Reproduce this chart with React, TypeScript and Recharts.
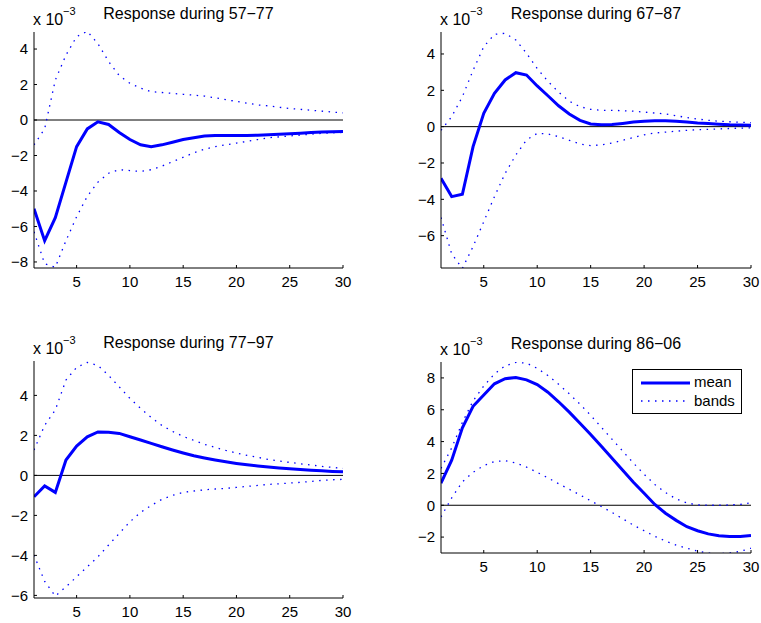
import { LineChart, Line, XAxis, YAxis, ReferenceLine, Legend } from 'recharts'

const steps = [1, 2, 3, 4, 5, 6, 7, 8, 9, 10, 11, 12, 13, 14, 15, 16, 17, 18, 19, 20, 21, 22, 23, 24, 25, 26, 27, 28, 29, 30]
const xTicks = [5, 10, 15, 20, 25, 30]

// values in units of 10^-3
const mean5777 = [-5.0, -6.8, -5.5, -3.5, -1.5, -0.5, -0.1, -0.25, -0.7, -1.1, -1.4, -1.5, -1.4, -1.25, -1.1, -1.0, -0.9, -0.87, -0.87, -0.87, -0.87, -0.86, -0.83, -0.8, -0.77, -0.74, -0.71, -0.68, -0.66, -0.65]
const upper5777 = [-1.4, -0.5, 2.25, 3.66, 4.7, 5.0, 4.3, 3.3, 2.5, 2.07, 1.8, 1.6, 1.55, 1.5, 1.45, 1.4, 1.35, 1.25, 1.15, 1.05, 0.95, 0.85, 0.8, 0.72, 0.65, 0.6, 0.55, 0.5, 0.45, 0.4]
const lower5777 = [-6.3, -8.1, -8.3, -6.8, -5.45, -4.3, -3.5, -3.0, -2.8, -2.85, -2.9, -2.8, -2.6, -2.35, -2.1, -1.85, -1.65, -1.5, -1.4, -1.3, -1.2, -1.1, -1.0, -0.95, -0.9, -0.85, -0.8, -0.75, -0.72, -0.7]

const mean6787 = [-2.84, -3.85, -3.72, -1.1, 0.73, 1.83, 2.57, 2.97, 2.84, 2.24, 1.7, 1.15, 0.7, 0.35, 0.15, 0.1, 0.12, 0.18, 0.25, 0.3, 0.33, 0.33, 0.3, 0.25, 0.2, 0.17, 0.13, 0.1, 0.09, 0.08]
const upper6787 = [-0.2, 0.55, 1.65, 3.1, 4.4, 5.08, 5.14, 4.77, 4.04, 3.2, 2.5, 1.9, 1.4, 1.1, 0.95, 0.9, 0.9, 0.88, 0.85, 0.8, 0.75, 0.7, 0.6, 0.5, 0.42, 0.35, 0.3, 0.27, 0.24, 0.22]
const lower6787 = [-5.0, -7.0, -7.8, -6.6, -5.23, -3.85, -2.57, -1.56, -0.73, -0.37, -0.4, -0.55, -0.75, -0.95, -1.05, -1.0, -0.9, -0.75, -0.6, -0.45, -0.35, -0.3, -0.25, -0.2, -0.17, -0.15, -0.12, -0.1, -0.08, -0.07]

const mean7797 = [-1.07, -0.53, -0.85, 0.77, 1.47, 1.93, 2.17, 2.16, 2.1, 1.93, 1.77, 1.6, 1.43, 1.27, 1.12, 0.98, 0.87, 0.77, 0.68, 0.6, 0.53, 0.47, 0.42, 0.37, 0.33, 0.29, 0.26, 0.23, 0.2, 0.18]
const upper7797 = [1.27, 2.5, 3.27, 4.77, 5.4, 5.65, 5.5, 5.0, 4.43, 3.85, 3.35, 2.9, 2.5, 2.2, 1.95, 1.75, 1.55, 1.4, 1.25, 1.12, 1.0, 0.9, 0.8, 0.72, 0.65, 0.58, 0.52, 0.45, 0.4, 0.35]
const lower7797 = [-3.98, -5.3, -6.03, -5.57, -5.07, -4.57, -4.07, -3.48, -2.9, -2.32, -1.85, -1.5, -1.2, -1.0, -0.85, -0.78, -0.72, -0.68, -0.65, -0.6, -0.55, -0.5, -0.45, -0.42, -0.38, -0.35, -0.3, -0.25, -0.22, -0.2]

const mean8606 = [1.39, 2.83, 4.86, 6.22, 6.93, 7.63, 7.95, 8.03, 7.88, 7.58, 7.1, 6.5, 5.85, 5.15, 4.45, 3.7, 2.95, 2.2, 1.45, 0.75, 0.05, -0.5, -0.95, -1.35, -1.6, -1.8, -1.92, -1.97, -1.97, -1.9]
const upper8606 = [2.32, 3.6, 5.2, 6.56, 7.49, 8.25, 8.76, 8.98, 8.93, 8.6, 8.15, 7.6, 7.0, 6.35, 5.65, 4.9, 4.15, 3.4, 2.65, 1.95, 1.3, 0.8, 0.4, 0.15, 0.02, 0.0, 0.0, 0.02, 0.05, 0.15]
const lower8606 = [-0.73, 0.46, 1.47, 2.07, 2.49, 2.75, 2.8, 2.66, 2.4, 2.07, 1.72, 1.35, 1.0, 0.65, 0.28, -0.08, -0.45, -0.85, -1.25, -1.6, -1.95, -2.25, -2.5, -2.7, -2.88, -3.0, -3.05, -3.0, -2.9, -2.7]

const FONT = '"Liberation Sans", Arial, Helvetica, sans-serif'
const BLUE = '#0000ff'
const DOTS = '1.5 5.5'

const fmt = (v: number) => (v < 0 ? '\u2212' + Math.abs(v) : String(v))

function LegendBox() {
  return (
    <div style={{ width: 110, height: 45, border: '1px solid #000', background: '#fff', fontFamily: FONT, fontSize: 15, lineHeight: '17px', color: '#000', position: 'relative', boxSizing: 'border-box' }}>
      <svg width={60} height={45} style={{ position: 'absolute', left: 0, top: 0 }}>
        <line x1={8} x2={57} y1={13} y2={13} stroke={BLUE} strokeWidth={3} />
        <line x1={8} x2={57} y1={31} y2={31} stroke={BLUE} strokeWidth={1.3} strokeDasharray={DOTS} />
      </svg>
      <div style={{ position: 'absolute', left: 61, top: 3 }}>mean</div>
      <div style={{ position: 'absolute', left: 61, top: 22 }}>bands</div>
    </div>
  )
}

interface PanelProps {
  title: string
  x0: number
  y0: number
  w: number
  h: number
  domain: [number, number]
  yTicks: number[]
  mean: number[]
  upper: number[]
  lower: number[]
  legend?: boolean
}

function Panel({ title, x0, y0, w, h, domain, yTicks, mean, upper, lower, legend }: PanelProps) {
  const padL = 34
  const padT = 32
  const cw = w + padL + 12
  const ch = h + padT + 34
  const data = steps.map((s, i) => ({ step: s, mean: mean[i], upper: upper[i], lower: lower[i] }))
  return (
    <div style={{ position: 'absolute', left: x0 - padL, top: y0 - padT, width: cw, height: ch }}>
      <LineChart width={cw} height={ch} data={data} margin={{ top: padT, left: 4, right: 12, bottom: 12 }}>
        <XAxis
          dataKey="step"
          type="number"
          domain={[1, 30]}
          ticks={xTicks}
          allowDataOverflow
          stroke="#000"
          tickSize={-3}
          tickMargin={11}
          height={22}
          tick={{ fill: '#000', fontSize: 15, fontFamily: FONT }}
        />
        <YAxis
          type="number"
          domain={domain}
          ticks={yTicks}
          allowDataOverflow
          stroke="#000"
          tickSize={-3}
          tickMargin={9}
          width={30}
          tickFormatter={fmt}
          tick={{ fill: '#000', fontSize: 15, fontFamily: FONT }}
        />
        <ReferenceLine y={0} stroke="#000" strokeWidth={1} />
        <Line dataKey="upper" stroke={BLUE} strokeWidth={1.3} strokeDasharray={DOTS} dot={false} isAnimationActive={false} legendType="none" />
        <Line dataKey="lower" stroke={BLUE} strokeWidth={1.3} strokeDasharray={DOTS} dot={false} isAnimationActive={false} legendType="none" />
        <Line dataKey="mean" stroke={BLUE} strokeWidth={3} dot={false} isAnimationActive={false} />
        {legend && (
          <Legend
            content={() => <LegendBox />}
            wrapperStyle={{ position: 'absolute', left: padL + 191, top: padT + 7, width: 110 }}
          />
        )}
      </LineChart>
      <svg width={cw} height={padT} style={{ position: 'absolute', left: 0, top: 0, fontFamily: FONT }}>
        <text x={padL + w / 2} y={padT - 13} textAnchor="middle" fontSize={16} fill="#000">{title}</text>
        <text x={padL - 1} y={padT - 7} fontSize={16} fill="#000">x 10</text>
        <text x={padL + 29} y={padT - 17} fontSize={11} fill="#000">{'\u22123'}</text>
      </svg>
    </div>
  )
}

export default function App() {
  return (
    <div style={{ position: 'absolute', left: 0, top: 0, width: 761, height: 623, background: '#fff', overflow: 'hidden' }}>
      <Panel title={'Response during 57\u221277'} x0={34} y0={32} w={309} h={236} domain={[-8.34, 4.96]} yTicks={[-8, -6, -4, -2, 0, 2, 4]} mean={mean5777} upper={upper5777} lower={lower5777} />
      <Panel title={'Response during 67\u221287'} x0={441} y0={32} w={310} h={236} domain={[-7.78, 5.21]} yTicks={[-6, -4, -2, 0, 2, 4]} mean={mean6787} upper={upper6787} lower={lower6787} />
      <Panel title={'Response during 77\u221297'} x0={34} y0={361} w={309} h={237} domain={[-6.13, 5.72]} yTicks={[-6, -4, -2, 0, 2, 4]} mean={mean7797} upper={upper7797} lower={lower7797} />
      <Panel title={'Response during 86\u221206'} x0={441} y0={362} w={310} h={236} domain={[-3.0, 9.0]} yTicks={[-2, 0, 2, 4, 6, 8]} mean={mean8606} upper={upper8606} lower={lower8606} legend />
    </div>
  )
}
